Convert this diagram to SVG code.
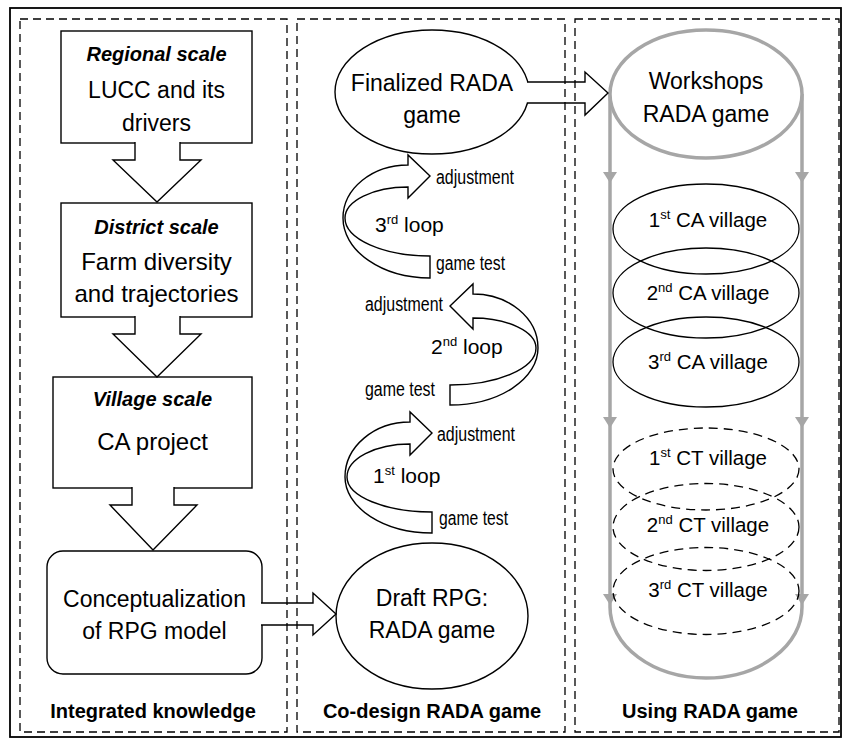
<svg xmlns="http://www.w3.org/2000/svg" width="843" height="742" viewBox="0 0 843 742">
<style>
.box{fill:#fff;stroke:#000;stroke-width:1.4}
.panel{fill:none;stroke:#000;stroke-width:1.3;stroke-dasharray:8 5}
.t{font-family:"Liberation Sans",Arial,sans-serif;fill:#000;text-anchor:middle}
.m{font-size:23px}
.bi{font-size:20px;font-weight:bold;font-style:italic}
.b{font-size:20px;font-weight:bold}
.v{font-size:20.5px}
.lp{font-size:21px;text-anchor:start}
.c{font-size:20px;text-anchor:start}
.arr{fill:#fff;stroke:#000;stroke-width:1.4;stroke-linejoin:miter}
.gray{fill:none;stroke:#a6a6a6;stroke-width:3.5}
.gh{fill:#a6a6a6}
.vill{fill:none;stroke:#000;stroke-width:1.3}
.dsh{stroke-dasharray:9 6}
</style>
<rect x="0" y="0" width="843" height="742" fill="#fff"/>
<rect x="10" y="8" width="831" height="729" fill="none" stroke="#000" stroke-width="1.8"/>

<g id="regional">
<rect class="box" x="61" y="31" width="191" height="112"/>
<text class="t bi" x="156.5" y="61">Regional scale</text>
<text class="t m" x="156.5" y="98">LUCC and its</text>
<text class="t m" x="156.5" y="131">drivers</text>
</g>
<g id="district">
<rect class="box" x="61" y="203" width="191" height="114"/>
<text class="t bi" x="156.5" y="234">District scale</text>
<text class="t m" x="156.5" y="270" style="font-size:24px">Farm diversity</text>
<text class="t m" x="156.5" y="302" style="font-size:24px">and trajectories</text>
</g>
<g id="village">
<rect class="box" x="53" y="377" width="199" height="111"/>
<text class="t bi" x="152.5" y="406">Village scale</text>
<text class="t m" x="152.5" y="450" style="font-size:24px">CA project</text>
</g>
<g id="conceptualization">
<rect class="box" x="47" y="551" width="215" height="123" rx="16" ry="16"/>
<text class="t m" x="154.5" y="607">Conceptualization</text>
<text class="t m" x="154.5" y="639">of RPG model</text>
</g>
<text class="t b" x="153" y="718">Integrated knowledge</text>

<g id="draft">
<ellipse class="box" cx="432" cy="616" rx="96" ry="73"/>
<text class="t m" x="432" y="606">Draft RPG:</text>
<text class="t m" x="432" y="638">RADA game</text>
</g>
<g id="finalized">
<ellipse class="box" cx="432" cy="92" rx="97" ry="62"/>
<text class="t m" x="432" y="91">Finalized RADA</text>
<text class="t m" x="432" y="123">game</text>
</g>
<text class="t b" x="432" y="718">Co-design RADA game</text>

<g id="loop3">
<path class="arr" d="M430 278 A87 60 0 0 1 343 218 A65 53 0 0 1 408 165 L408 155 L430 176 L408 198 L408 187 A63 31 0 0 0 345 218 A85 38 0 0 0 430 256 Z"/>
<text class="t lp" x="375" y="232">3<tspan font-size="13" dy="-8">rd</tspan><tspan dy="8"> loop</tspan></text>
<text class="t c" x="436" y="184" textLength="78" lengthAdjust="spacingAndGlyphs">adjustment</text>
<text class="t c" x="436" y="270" textLength="69" lengthAdjust="spacingAndGlyphs">game test</text>
</g>
<g id="loop2">
<path class="arr" d="M450 405 A88 57 0 0 0 538 348 A65 54 0 0 0 473 294 L473 284 L450 306 L473 329 L473 318 A63 30 0 0 1 536 348 A86 37 0 0 1 450 385 Z"/>
<text class="t lp" x="431" y="354">2<tspan font-size="13" dy="-8">nd</tspan><tspan dy="8"> loop</tspan></text>
<text class="t c" x="365" y="311" textLength="78" lengthAdjust="spacingAndGlyphs">adjustment</text>
<text class="t c" x="365" y="396" textLength="70" lengthAdjust="spacingAndGlyphs">game test</text>
</g>
<g id="loop1">
<path class="arr" d="M432 533 A87 56 0 0 1 345 477 A65 55 0 0 1 410 422 L410 412 L432 433 L410 455 L410 444 A63 33 0 0 0 347 477 A85 35 0 0 0 432 512 Z"/>
<text class="t lp" x="373" y="483">1<tspan font-size="13" dy="-8">st</tspan><tspan dy="8"> loop</tspan></text>
<text class="t c" x="437" y="441" textLength="78" lengthAdjust="spacingAndGlyphs">adjustment</text>
<text class="t c" x="439" y="525" textLength="69" lengthAdjust="spacingAndGlyphs">game test</text>
</g>

<g id="workshops">
<path class="gray" d="M610 94 L610 607 A96 71 0 0 0 802 607 L802 94"/>
<ellipse class="gray" cx="706" cy="94" rx="96" ry="64" style="fill:#fff"/>
<polygon class="gh" points="603,172 617,172 610,183"/>
<polygon class="gh" points="795,172 809,172 802,183"/>
<polygon class="gh" points="603,417 617,417 610,428"/>
<polygon class="gh" points="795,417 809,417 802,428"/>
<polygon class="gh" points="603,594 617,594 610,605"/>
<polygon class="gh" points="795,594 809,594 802,605"/>
<text class="t m" x="706" y="89">Workshops</text>
<text class="t m" x="706" y="122">RADA game</text>
</g>
<g id="ca1">
<ellipse class="vill" cx="706" cy="229" rx="93" ry="45"/>
<text class="t v" x="708" y="227">1<tspan font-size="13" dy="-8">st</tspan><tspan dy="8"> CA village</tspan></text>
</g>
<g id="ca2">
<ellipse class="vill" cx="706" cy="293" rx="93" ry="45"/>
<text class="t v" x="708" y="300">2<tspan font-size="13" dy="-8">nd</tspan><tspan dy="8"> CA village</tspan></text>
</g>
<g id="ca3">
<ellipse class="vill" cx="706" cy="362" rx="93" ry="45"/>
<text class="t v" x="708" y="369">3<tspan font-size="13" dy="-8">rd</tspan><tspan dy="8"> CA village</tspan></text>
</g>
<g id="ct1">
<ellipse class="vill dsh" cx="706" cy="469" rx="93" ry="41"/>
<text class="t v" x="708" y="465">1<tspan font-size="13" dy="-8">st</tspan><tspan dy="8"> CT village</tspan></text>
</g>
<g id="ct2">
<ellipse class="vill dsh" cx="706" cy="527" rx="93" ry="43.5"/>
<text class="t v" x="708" y="532">2<tspan font-size="13" dy="-8">nd</tspan><tspan dy="8"> CT village</tspan></text>
</g>
<g id="ct3">
<ellipse class="vill dsh" cx="706" cy="591" rx="93" ry="43.5"/>
<text class="t v" x="708" y="597">3<tspan font-size="13" dy="-8">rd</tspan><tspan dy="8"> CT village</tspan></text>
</g>
<text class="t b" x="710" y="718">Using RADA game</text>

<g id="connectors">
<path class="arr" d="M135 142 L135 160 L113 160 L157 202 L201 160 L180 160 L180 142"/>
<path class="arr" d="M135 316 L135 334 L113 334 L157 377 L201 334 L180 334 L180 316"/>
<path class="arr" d="M132 487 L132 505 L110 505 L153 550 L197 505 L174 505 L174 487"/>
<path class="arr" d="M261 603 L313 603 L313 593 L336 614 L313 635 L313 625 L261 625"/>
<path class="arr" d="M527 82 L585 82 L585 72 L608 93 L585 115 L585 103 L527 103"/>
</g>

<g id="panels">
<rect class="panel" x="20" y="19" width="267" height="713"/>
<rect class="panel" x="297" y="19" width="268" height="713"/>
<rect class="panel" x="575" y="19" width="264" height="713"/>
</g>
</svg>
